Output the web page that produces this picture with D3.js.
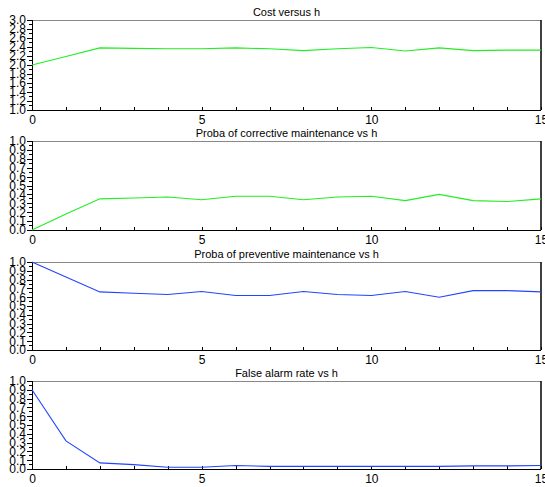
<!DOCTYPE html>
<html><head><meta charset="utf-8">
<script src="https://cdn.jsdelivr.net/npm/d3@7"></script>
<style>body{margin:0;background:#fff}svg{display:block}text{font-family:"Liberation Sans",Arial,sans-serif}</style>
</head><body><svg id="c" width="545" height="487"></svg>
<script>
const h = [0,1,2,3,4,5,6,7,8,9,10,11,12,13,14,15];
const cost = [2.0,2.19,2.38,2.37,2.36,2.36,2.38,2.36,2.32,2.36,2.39,2.31,2.38,2.32,2.33,2.33];
const corrective = [0.0,0.18,0.35,0.36,0.37,0.34,0.38,0.38,0.34,0.37,0.38,0.33,0.40,0.33,0.32,0.35];
const preventive = [1.0,0.83,0.66,0.645,0.63,0.665,0.62,0.62,0.665,0.63,0.62,0.665,0.60,0.675,0.675,0.66];
const falseAlarm = [0.90,0.32,0.07,0.05,0.02,0.02,0.04,0.03,0.03,0.03,0.03,0.03,0.03,0.035,0.035,0.04];
const titles = ["Cost versus h","Proba of corrective maintenance vs h","Proba of preventive maintenance vs h","False alarm rate vs h"];
const seriesList = [cost, corrective, preventive, falseAlarm];
const colors = ["#22ee22","#22ee22","#2244ff","#2244ff"];
const yDomains = [[1,3],[0,1],[0,1],[0,1]];
const xTickLabels = [0,5,10,15];

const svg = d3.select("#c");
const tops = [20,141,262,381], bottoms = [110,230,350,469];
const x = d3.scaleLinear().domain([0,15]).range([32,541]);

seriesList.forEach((vals,i)=>{
  const y = d3.scaleLinear().domain(yDomains[i]).range([bottoms[i],tops[i]]);
  const g = svg.append("g");
  const [d0,d1] = yDomains[i];
  const step = (d1-d0)/10;
  const majors = d3.range(11).map(k=>d0+k*step);
  const minors = d3.range(10).map(k=>d0+(k+0.5)*step);
  g.append("g").selectAll("line").data(minors).join("line")
    .attr("x1",x(0)-3).attr("x2",x(0)).attr("y1",d=>y(d)).attr("y2",d=>y(d))
    .attr("stroke","#000").attr("shape-rendering","crispEdges");
  const yAxis = d3.axisLeft(y).tickValues(majors).tickSize(5).tickPadding(1).tickFormat(d3.format(".1f"));
  const ya = g.append("g").attr("transform",`translate(${x(0)},0)`).call(yAxis);
  ya.select(".domain").remove();
  ya.selectAll("text").attr("font-size",12).attr("font-family","Liberation Sans, Arial, sans-serif").attr("fill","#000");
  ya.selectAll("line").attr("shape-rendering","crispEdges");
  const xa = g.append("g").attr("transform",`translate(0,${bottoms[i]})`)
    .call(d3.axisBottom(x).tickValues(h).tickSize(-3).tickFormat(d=>xTickLabels.includes(d)?d:"").tickPadding(5));
  xa.select(".domain").remove();
  xa.selectAll("text").attr("font-size",12).attr("font-family","Liberation Sans, Arial, sans-serif").attr("fill","#000");
  xa.selectAll("line").attr("shape-rendering","crispEdges");
  g.append("line").attr("x1",x(0)).attr("x2",x(15)).attr("y1",tops[i]).attr("y2",tops[i]).attr("stroke","#888").attr("shape-rendering","crispEdges");
  g.append("line").attr("x1",x(15)).attr("x2",x(15)).attr("y1",tops[i]).attr("y2",bottoms[i]).attr("stroke","#000").attr("stroke-width",1.5);
  g.append("line").attr("x1",x(0)-3).attr("x2",x(15)).attr("y1",bottoms[i]).attr("y2",bottoms[i]).attr("stroke","#000").attr("shape-rendering","crispEdges");
  g.append("line").attr("x1",x(0)).attr("x2",x(0)).attr("y1",tops[i]).attr("y2",bottoms[i]).attr("stroke","#000").attr("shape-rendering","crispEdges");
  g.append("path").datum(vals).attr("fill","none").attr("stroke",colors[i]).attr("stroke-width",1.1)
    .attr("d",d3.line().x((d,k)=>x(h[k])).y(d=>y(d)));
  g.append("text").attr("x",(x(0)+x(15))/2).attr("y",tops[i]-4).attr("text-anchor","middle")
    .attr("font-size",11).text(titles[i]);
});
</script></body></html>
